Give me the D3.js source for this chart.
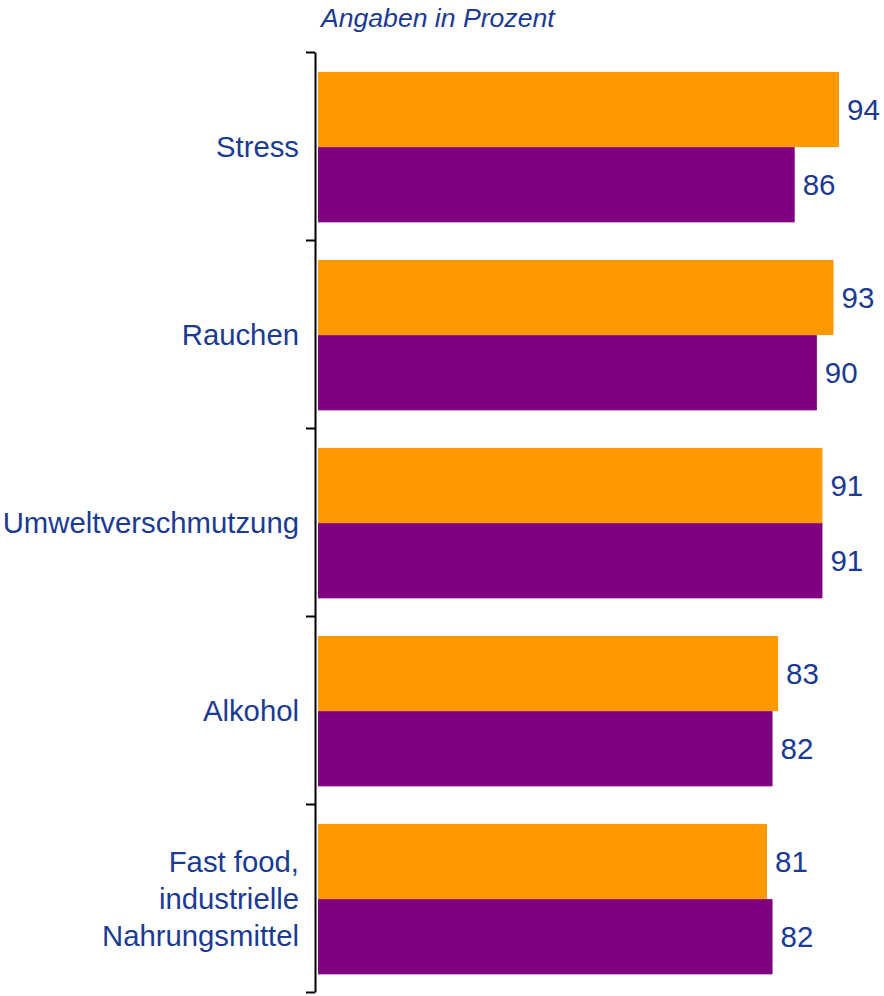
<!DOCTYPE html>
<html lang="de">
<head>
<meta charset="UTF-8">
<title>Angaben in Prozent</title>
<script src="https://d3js.org/d3.v7.min.js"></script>
<style>
    body { margin: 0; background: #fff; }
    svg { display: block; font-family: Arial, "Liberation Sans", sans-serif; }
</style>
</head>
<body>
<script>
// chart data
var categories = ['Stress', 'Rauchen', 'Umweltverschmutzung', 'Alkohol', 'Fast food, industrielle Nahrungsmittel'];
var categoryLines = [['Stress'], ['Rauchen'], ['Umweltverschmutzung'], ['Alkohol'], ['Fast food,', 'industrielle', 'Nahrungsmittel']];
var seriesNames = ['Reihe 1', 'Reihe 2'];
var seriesOrange = [94, 93, 91, 83, 81];
var seriesPurple = [86, 90, 91, 82, 82];
var colors = ['#ff9900', '#800080'];
var textColor = '#1b3a94';

var width = 884, height = 996;
var axisX = 315, plotTop = 52, plotBottom = 992;

var svg = d3.select('body').append('svg')
    .attr('width', width)
    .attr('height', height);

// title
svg.append('text')
    .attr('x', 321)
    .attr('y', 27)
    .style('font-size', '26.6px')
    .style('font-style', 'italic')
    .attr('fill', textColor)
    .text('Angaben in Prozent');

var rows = categories.map(function(c, i) {
    return { cat: c, lines: categoryLines[i], values: [seriesOrange[i], seriesPurple[i]] };
});

// scales
var x = d3.scaleLinear().domain([0, 100]).range([318, 318 + 554.3]);

var y = d3.scaleBand()
    .domain(categories)
    .range([plotTop, plotBottom])
    .paddingInner(0.2)
    .paddingOuter(0.1)
    .align(0.53);

var ySub = d3.scaleBand()
    .domain(seriesNames)
    .range([0, y.bandwidth()]);

// bars
var groups = svg.selectAll('.row')
    .data(rows)
    .enter().append('g')
    .attr('class', 'row')
    .attr('transform', d => 'translate(0,' + y(d.cat) + ')');

groups.selectAll('rect')
    .data(d => d.values.map((v, j) => ({ name: seriesNames[j], value: v, j: j })))
    .enter().append('rect')
    .attr('x', x(0))
    .attr('y', d => ySub(d.name))
    .attr('width', d => x(d.value) - x(0))
    .attr('height', ySub.bandwidth())
    .attr('fill', d => colors[d.j]);

groups.selectAll('.val')
    .data(d => d.values.map((v, j) => ({ name: seriesNames[j], value: v })))
    .enter().append('text')
    .attr('class', 'val')
    .attr('x', d => x(d.value) + 8)
    .attr('y', d => ySub(d.name) + ySub.bandwidth() / 2)
    .attr('dy', '0.35em')
    .style('font-size', '29.5px')
    .attr('fill', textColor)
    .text(d => d.value);

// y axis with ticks between categories
var yEdges = d3.scaleLinear().domain([0, categories.length]).range([plotTop, plotBottom]);
var yAxis = d3.axisLeft(yEdges)
    .tickValues(d3.range(0, categories.length + 1))
    .tickFormat('')
    .tickSize(9)
    .tickSizeOuter(0);

var axisG = svg.append('g')
    .attr('transform', 'translate(' + axisX + ',0)')
    .call(yAxis);
axisG.selectAll('path, line').attr('stroke', '#000').attr('stroke-width', 2);

// category labels
var lineH = 37;
svg.selectAll('.cat')
    .data(rows)
    .enter().append('text')
    .attr('class', 'cat')
    .attr('text-anchor', 'end')
    .style('font-size', '29.3px')
    .attr('fill', textColor)
    .each(function(d) {
        var cy = y(d.cat) + y.bandwidth() / 2;
        var start = cy - (d.lines.length - 1) * lineH / 2;
        d3.select(this).selectAll('tspan')
            .data(d.lines)
            .enter().append('tspan')
            .attr('x', 299)
            .attr('y', (l, k) => start + k * lineH)
            .attr('dy', '0.35em')
            .text(l => l);
    });
</script>
</body>
</html>
